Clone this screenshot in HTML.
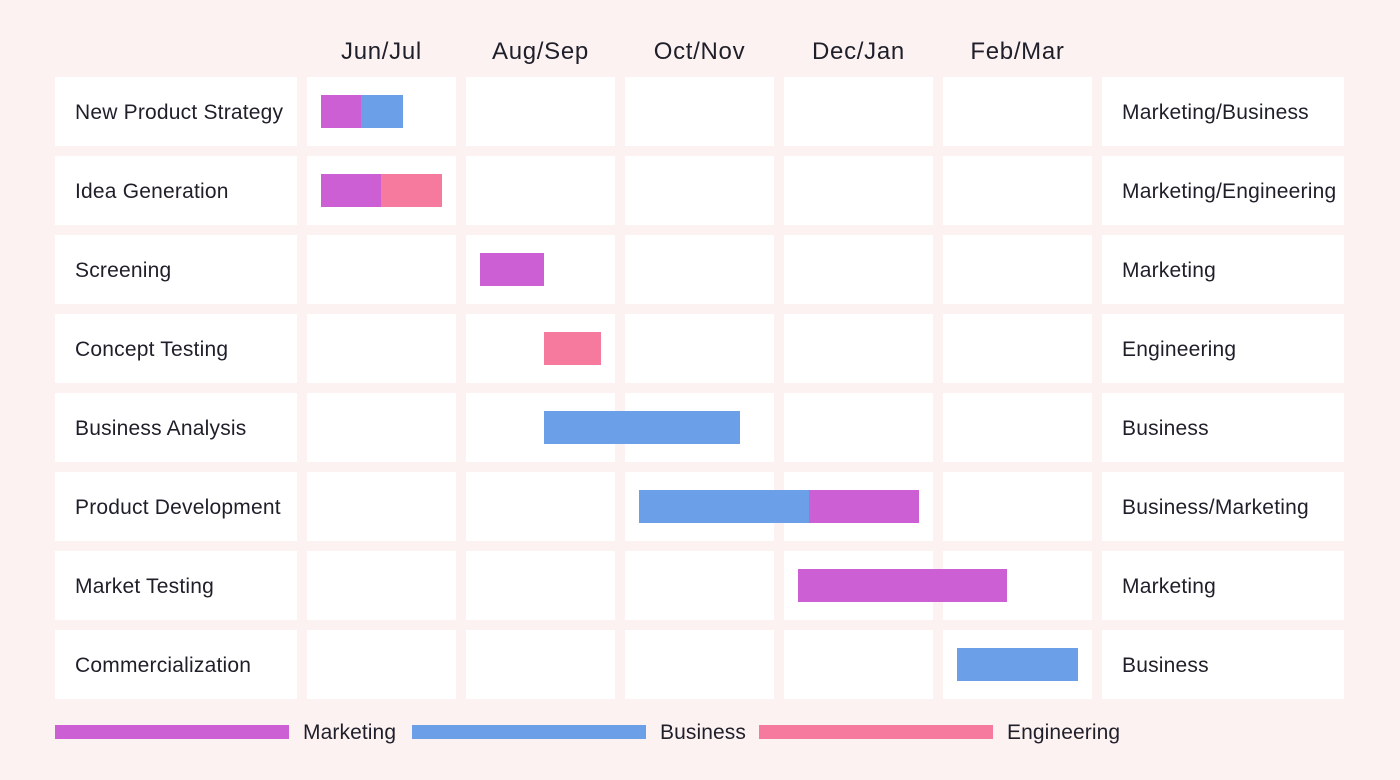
<!DOCTYPE html>
<html><head><meta charset="utf-8"><style>
body{margin:0;width:1400px;height:780px;background:#fdf2f2;position:relative;overflow:hidden;font-family:"Liberation Sans",sans-serif;color:#1f1f2a}
.c{position:absolute;background:#fff;height:69px}
.t{position:absolute;font-size:21px;line-height:71px;padding-left:20px;letter-spacing:0.2px}
.h{position:absolute;top:38px;font-size:24px;width:149px;text-align:center;letter-spacing:0.7px}
.b{position:absolute;height:33px}
.m{background:#cd5fd4}.u{background:#6b9fe8}.p{background:#f57a9d}
.l{position:absolute;top:725px;height:14px;width:234px}
.lt{position:absolute;top:721px;font-size:21px;letter-spacing:0.1px}
</style></head><body>
<div class="h" style="left:307px">Jun/Jul</div>
<div class="h" style="left:466px">Aug/Sep</div>
<div class="h" style="left:625px">Oct/Nov</div>
<div class="h" style="left:784px">Dec/Jan</div>
<div class="h" style="left:943px">Feb/Mar</div>
<div id="g"></div>
<script>
var labels=["New Product Strategy","Idea Generation","Screening","Concept Testing","Business Analysis","Product Development","Market Testing","Commercialization"];
var right=["Marketing/Business","Marketing/Engineering","Marketing","Engineering","Business","Business/Marketing","Marketing","Business"];
var bars=[[[321,361,'m'],[361,403,'u']],[[321,381,'m'],[381,442,'p']],[[480,544,'m']],[[544,601,'p']],[[544,740,'u']],[[639,809,'u'],[809,919,'m']],[[798,1007,'m']],[[957,1078,'u']]];
var cols=[[55,242],[307,149],[466,149],[625,149],[784,149],[943,149],[1102,242]];
var h='';
for(var r=0;r<8;r++){var y=77+79*r;
for(var c=0;c<7;c++)h+='<div class="c" style="left:'+cols[c][0]+'px;top:'+y+'px;width:'+cols[c][1]+'px"></div>';
h+='<div class="t" style="left:55px;top:'+y+'px">'+labels[r]+'</div>';
h+='<div class="t" style="left:1102px;top:'+y+'px">'+right[r]+'</div>';
bars[r].forEach(function(b){h+='<div class="b '+b[2]+'" style="left:'+b[0]+'px;width:'+(b[1]-b[0])+'px;top:'+(y+18)+'px"></div>';});
}
document.getElementById('g').innerHTML=h;
</script>
<div class="l m" style="left:55px"></div><div class="lt" style="left:303px">Marketing</div>
<div class="l u" style="left:412px"></div><div class="lt" style="left:660px">Business</div>
<div class="l p" style="left:759px"></div><div class="lt" style="left:1007px">Engineering</div>
</body></html>
